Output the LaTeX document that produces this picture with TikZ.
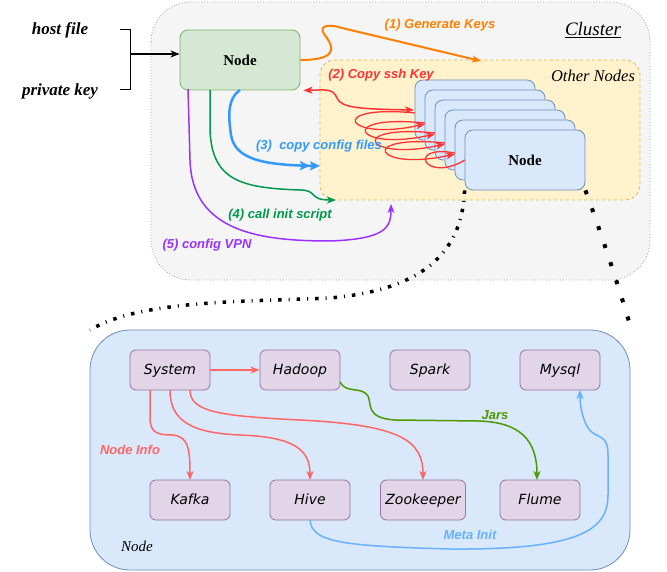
\documentclass[tikz,border=0pt]{standalone}
\usepackage{fontspec}
\setmainfont{Liberation Serif}
\newfontfamily\lblfont{Liberation Sans}
\newfontfamily\comicfont{DejaVu Sans}
\usetikzlibrary{arrows.meta}
\definecolor{clfill}{HTML}{F5F5F5}
\definecolor{cldraw}{HTML}{999999}
\definecolor{gnfill}{HTML}{D5E8D4}
\definecolor{gndraw}{HTML}{82B366}
\definecolor{ylfill}{HTML}{FFF2CC}
\definecolor{yldraw}{HTML}{D6B656}
\definecolor{blfill}{HTML}{DAE8FC}
\definecolor{bldraw}{HTML}{6C8EBF}
\definecolor{pufill}{HTML}{E1D5E7}
\definecolor{pudraw}{HTML}{9673A6}
\definecolor{corange}{HTML}{FF8000}
\definecolor{cred}{HTML}{FF3333}
\definecolor{cblue}{HTML}{3399FF}
\definecolor{cgreen}{HTML}{00994D}
\definecolor{cpurple}{HTML}{9933FF}
\definecolor{csalmon}{HTML}{FF6666}
\definecolor{cjars}{HTML}{4D9900}
\definecolor{clight}{HTML}{66B2FF}
\tikzset{
  tip/.style={-{Stealth[length=9pt,width=7pt,inset=2.5pt]}},
  lbl/.style={font=\lblfont\bfseries\itshape\fontsize{13}{13}\selectfont, inner sep=0pt},
  stacknode/.style={draw=bldraw, fill=blfill, rounded corners=8pt, minimum width=120pt, minimum height=60pt, line width=0.8pt, inner sep=0pt},
  svc/.style={draw=pudraw, fill=pufill, rounded corners=6pt, minimum width=80pt, minimum height=40pt, line width=0.8pt, inner sep=0pt, text height=10pt, text depth=2pt, font=\comicfont\itshape\fontsize{14}{14}\selectfont},
  dotline/.style={line width=3.5pt, dash pattern=on 3.5pt off 7pt on 1pt off 7pt},
  sqline/.style={line width=4pt, dash pattern=on 4pt off 15pt}
}
\begin{document}
\begin{tikzpicture}[x=1pt,y=-1pt]
\useasboundingbox (0,0) rectangle (667,572);
% cluster
\draw[fill=clfill, draw=cldraw, dotted, line width=0.8pt, rounded corners=40pt] (151,2) rectangle (650,280);
\node[font=\itshape\fontsize{19}{19}\selectfont, inner sep=0pt] (cluster) at (593,30) {\underline{Cluster}};
% inputs
\node[font=\bfseries\itshape\fontsize{17}{17}\selectfont] (host) at (60,30) {host file};
\node[font=\bfseries\itshape\fontsize{17}{17}\selectfont] (pkey) at (60,91) {private key};
\coordinate (b1) at (120,30);
\coordinate (b2) at (130,30);
\coordinate (b3) at (130,90);
\coordinate (b4) at (120,90);
\coordinate (bm) at (130,54);
\draw[line width=1pt] (b1) -- (b2) -- (b3) -- (b4);
% green node
\node[draw=gndraw, fill=gnfill, rounded corners=8pt, minimum width=120pt, minimum height=60pt, line width=0.8pt, font=\bfseries\fontsize{15}{15}\selectfont] (gnode) at (240,60) {Node};
\draw[line width=1.5pt, tip] (bm) -- (gnode.west |- bm);
% other nodes box
\node[draw=yldraw, fill=ylfill, dashed, rounded corners=15pt, minimum width=320pt, minimum height=140pt, line width=0.8pt] (other) at (480,130) {};
\node[font=\itshape\fontsize{16.5}{16.5}\selectfont, inner sep=0pt] (othertxt) at (593,76) {Other Nodes};
% stacked nodes
\foreach \k in {0,...,4} {
  \node[stacknode] (n\k) at (475+10*\k,110+10*\k) {};
}
\node[stacknode, font=\bfseries\fontsize{15}{15}\selectfont] (n5) at (525,160) {Node};
% red loops
\draw[cred, line width=1.5pt, {Stealth[length=9pt,width=7pt,inset=2.5pt]}-{Stealth[length=9pt,width=7pt,inset=2.5pt]}]
  (gnode.south east) ++(3,0) .. controls (325,90) and (333,88) .. (337,98) .. controls (341,108) and (360,109) .. (414,110);
\foreach \k in {0,...,3} {
  \draw[cred, line width=1.3pt, tip] (415+10*\k,113+10*\k) .. controls (325+10*\k,104+10*\k) and (345+10*\k,142+10*\k) .. (425+10*\k,124+10*\k);
}
\draw[cred, line width=1.3pt] (455,153) .. controls (365+10*4,144) and (385+10*4,184) .. (465,160);
% orange
\draw[corange, line width=2pt, tip] (gnode.east) .. controls (345,60) and (330,42) .. (324,34) .. controls (318,25) and (330,24) .. (342,28) -- (481,61);
\node[lbl, text=corange] (l1) at (440,25) {(1) Generate Keys};
\node[lbl, text=cred] (l2) at (381,75) {(2) Copy ssh Key};
% blue (3)
\draw[cblue, line width=2.5pt, -{Stealth[length=10pt,width=9pt,inset=2pt]Stealth[length=10pt,width=9pt,inset=2pt]}] (240,90) .. controls (226,100) and (229,120) .. (231,135) .. controls (235,160) and (265,165) .. (320,166);
\node[lbl, text=cblue] (l3) at (319,146) {(3)\ \ copy config files};
% green (4)
\draw[cgreen, line width=1.5pt, tip] (210,90) -- (210,130) .. controls (212,180) and (240,188) .. (300,190) .. controls (318,190) and (308,200) .. (336,200);
\node[lbl, text=cgreen] (l4) at (280,215) {(4) call init script};
% purple (5)
\draw[cpurple, line width=1.5pt, tip] (188,89) -- (190,160) .. controls (192,232) and (260,241) .. (330,241) .. controls (385,239) and (391,228) .. (391,204);
\node[lbl, text=cpurple] (l5) at (207,245) {(5) config VPN};
% dotted connectors
\draw[dotline] (n5.south west) .. controls (462,255) and (420,290) .. (330,298) .. controls (240,302) and (140,300) .. (90,330);
\draw[sqline] (n5.south east) .. controls (600,230) and (620,290) .. (632,332);
% bottom node box
\draw[fill=blfill, draw=bldraw, line width=0.8pt, rounded corners=40pt] (90,330) rectangle (630,570);
\node[font=\itshape\fontsize{15}{15}\selectfont, inner sep=0pt] (nodetxt) at (137,546) {Node};
% services
\node[svc] (system) at (170,370) {System};
\node[svc] (hadoop) at (300,370) {Hadoop};
\node[svc] (spark) at (430,370) {Spark};
\node[svc] (mysql) at (560,370) {Mysql};
\node[svc] (kafka) at (190,500) {Kafka};
\node[svc] (hive) at (310,500) {Hive};
\node[svc, minimum width=85pt] (zoo) at (423,500) {Zookeeper};
\node[svc] (flume) at (540,500) {Flume};
% salmon arrows
\draw[csalmon, line width=1.5pt, tip] (system.east) -- (hadoop.west);
\draw[csalmon, line width=1.5pt, tip] (150,390) -- (150,418) .. controls (150,433) and (158,435) .. (172,435) .. controls (188,436) and (190,448) .. (190,480);
\draw[csalmon, line width=1.5pt, tip] (170,390) .. controls (170,420) and (190,433) .. (240,435) .. controls (295,437) and (310,450) .. (310,480);
\draw[csalmon, line width=1.5pt, tip] (190,390) .. controls (190,412) and (220,416) .. (300,420) .. controls (400,425) and (423,440) .. (423,480);
\node[lbl, text=csalmon] (l6) at (130,450) {Node Info};
% jars
\draw[cjars, line width=1.5pt, tip] (340,382) .. controls (346,394) and (362,386) .. (368,396) .. controls (372,404) and (365,418) .. (395,420) -- (478,421) .. controls (520,422) and (537,440) .. (537,480);
\node[lbl, text=cjars] (l7) at (495,415) {Jars};
% meta init
\draw[clight, line width=1.5pt, tip] (310,520) .. controls (312,542) and (340,546) .. (450,549) .. controls (580,550) and (608,530) .. (608,495) -- (608,455) .. controls (608,432) and (596,440) .. (588,428) .. controls (582,418) and (580,405) .. (580,390);
\node[lbl, text=clight] (l8) at (470,535) {Meta Init};
\end{tikzpicture}
\end{document}
